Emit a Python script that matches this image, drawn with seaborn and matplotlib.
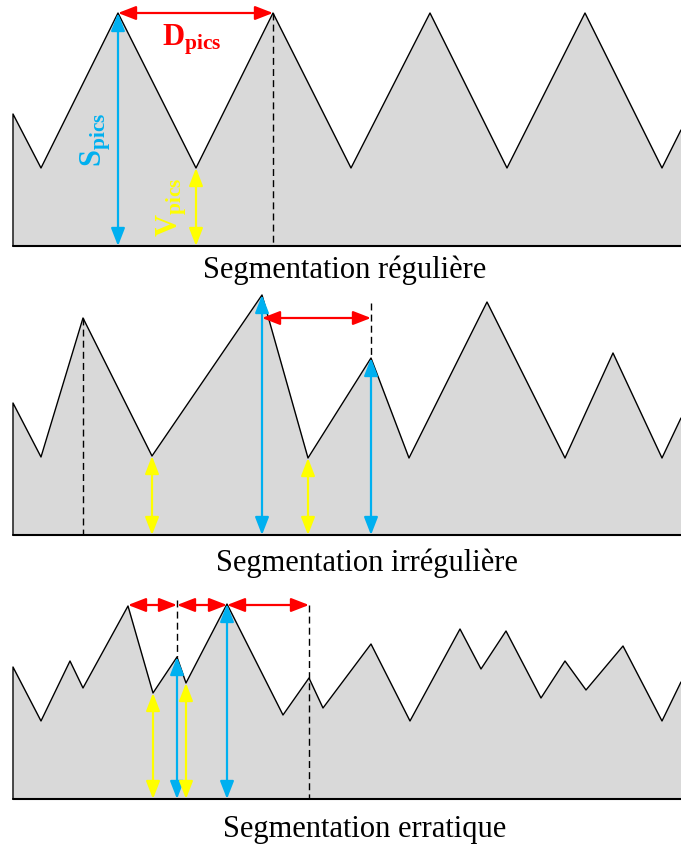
import numpy as np
import matplotlib
matplotlib.use("Agg")
import matplotlib.pyplot as plt
import seaborn as sns
import pandas as pd

sns.set_theme(style="white")
plt.rcParams['font.family'] = ['Liberation Serif', 'DejaVu Serif']
plt.rcParams['mathtext.fontset'] = 'custom'
plt.rcParams['mathtext.rm'] = 'Liberation Serif'
plt.rcParams['mathtext.bf'] = 'Liberation Serif:bold'

# Profile vertices: x position and height above the baseline
x_reg = [13, 41, 118, 196, 273, 351, 430, 507, 585, 662, 681]
h_reg = [132, 78, 233, 78, 233, 78, 233, 78, 233, 78, 116]

x_irr = [13, 41, 83, 152, 262, 308, 371, 409, 487, 565, 613, 662, 681]
h_irr = [132, 78, 217, 79, 240, 77, 177, 77, 233, 77, 182, 77, 117]

x_err = [13, 41, 70, 83, 128, 153, 177, 186, 227, 283, 309, 323, 371, 410,
         460, 481, 506, 541, 565, 586, 623, 662, 681]
h_err = [132, 78, 138, 111, 193, 106, 142, 116, 195, 84, 121, 91, 155, 78,
         170, 130, 168, 101, 138, 109, 153, 78, 117]

titles = ['Segmentation régulière', 'Segmentation irrégulière',
          'Segmentation erratique']

# measurement annotations, given as vertex indices
# (blue = peak height, yellow = valley height, red = peak spacing)
blue_idx = [[2], [4, 6], [6, 8]]
yellow_idx = [[3], [3, 5], [5, 7]]
red_pairs = [[(2, 4)], [(4, 6)], [(4, 6), (6, 8), (8, 10)]]
red_level = [233, 217, 194]           # height of the red arrows
dash_full = [[4], [2], [10]]          # dashed line down to baseline
dash_top = [[], [6], [6]]             # dashed line from above red level to peak

# layout (figure pixels)
baselines = [246, 535, 799]
title_pos = [(345, 270), (367, 563), (365, 830)]

RED, BLUE, YELLOW, FILL = '#ff0000', '#00b0f0', '#ffff00', '#d9d9d9'

fig = plt.figure(figsize=(6.81, 8.5), dpi=100)
ax = fig.add_axes([0, 0, 1, 1])
ax.set_xlim(0, 681)
ax.set_ylim(850, 0)
ax.axis('off')


def arrow(x0, y0, x1, y1, color):
    ax.annotate('', xy=(x1, y1), xytext=(x0, y0),
                arrowprops=dict(arrowstyle='<|-|>,head_length=0.9,head_width=0.35',
                                color=color, lw=1.6, mutation_scale=12,
                                shrinkA=0, shrinkB=0), zorder=5)


profiles = [(x_reg, h_reg), (x_irr, h_irr), (x_err, h_err)]
for p, (xs, hs) in enumerate(profiles):
    base = baselines[p]
    xs = np.array(xs)
    ys = base - np.array(hs)
    ax.fill_between(xs, ys, base, color=FILL, lw=0, zorder=1)
    outline = pd.DataFrame({'x': np.r_[xs[0], xs], 'y': np.r_[base, ys]})
    sns.lineplot(data=outline, x='x', y='y', sort=False, estimator=None,
                 color='black', lw=1.0, ax=ax, zorder=3)
    ax.plot([xs[0], 681], [base, base], color='black', lw=1.5, zorder=3)

    lvl = base - red_level[p]
    for i in dash_full[p]:
        top = min(ys[i], lvl)
        ax.plot([xs[i], xs[i]], [top, base], color='black', lw=1.0,
                ls=(0, (5, 3)), zorder=2)
    for i in dash_top[p]:
        ax.plot([xs[i], xs[i]], [lvl - 15 if p == 1 else lvl - 5, ys[i]],
                color='black', lw=1.0, ls=(0, (5, 3)), zorder=2)
    for i in blue_idx[p]:
        arrow(xs[i], ys[i], xs[i], base, BLUE)
    for i in yellow_idx[p]:
        arrow(xs[i], ys[i], xs[i], base, YELLOW)
    for a, b in red_pairs[p]:
        arrow(xs[a], lvl, xs[b], lvl, RED)

    tx, ty = title_pos[p]
    ax.text(tx, ty, titles[p], ha='center', va='center', fontsize=22,
            color='black')

# symbol labels on the regular profile
ax.text(192, 40, r'$\mathbf{D_{pics}}$', color=RED, fontsize=22,
        ha='center', va='center')
ax.text(96, 140, r'$\mathbf{S_{pics}}$', color=BLUE, fontsize=22,
        ha='center', va='center', rotation=90)
ax.text(172, 207, r'$\mathbf{V_{pics}}$', color=YELLOW, fontsize=22,
        ha='center', va='center', rotation=90)

fig.savefig('out.png', dpi=100)
